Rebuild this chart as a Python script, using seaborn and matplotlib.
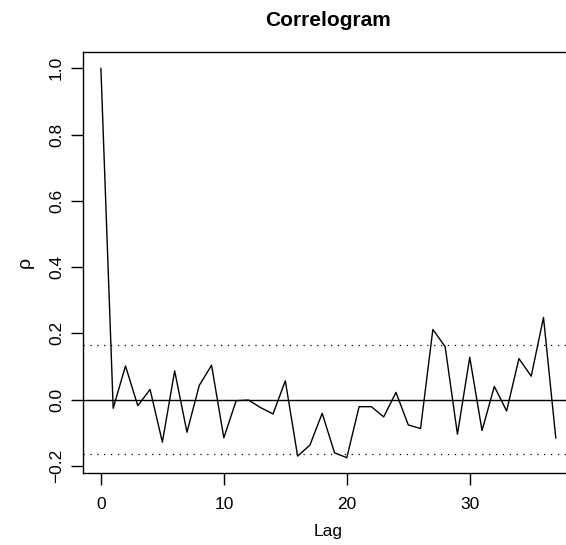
import matplotlib
matplotlib.use("Agg")
import matplotlib.pyplot as plt
import seaborn as sns
import pandas as pd

lags = list(range(38))
rho = [1.0, -0.026, 0.102, -0.018, 0.031, -0.128, 0.087, -0.098, 0.043, 0.104,
       -0.115, -0.003, -0.001, -0.024, -0.043, 0.057, -0.170, -0.137, -0.041, -0.160,
       -0.175, -0.021, -0.021, -0.052, 0.022, -0.076, -0.087, 0.212, 0.160, -0.104,
       0.128, -0.093, 0.040, -0.034, 0.124, 0.071, 0.248, -0.116]
conf = 0.164
x_ticks = [0, 10, 20, 30]
y_ticks = [-0.2, 0.0, 0.2, 0.4, 0.6, 0.8, 1.0]

sns.set_style("ticks")
plt.rcParams['font.family'] = ['Liberation Sans', 'DejaVu Sans']
plt.rcParams['text.color'] = 'black'
plt.rcParams['axes.labelcolor'] = 'black'

fig = plt.figure(figsize=(5.66, 5.45), dpi=100)
ax = fig.add_axes([82.7 / 566, (545 - 473.3) / 545, (574 - 82.7) / 566, 421 / 545])

df = pd.DataFrame({"Lag": lags, "rho": rho})
sns.lineplot(data=df, x="Lag", y="rho", ax=ax, color="black", linewidth=1.0)

ax.axhline(0, color="black", linewidth=1.0)
for c in (conf, -conf):
    ax.axhline(c, color="black", linewidth=0.9, linestyle=(0, (1, 4.5)))

ax.set_xlim(-1.48, 38.48)
ax.set_ylim(-0.222, 1.048)
ax.set_xticks(x_ticks)
ax.set_xticklabels([str(t) for t in x_ticks])
ax.set_yticks(y_ticks)
ax.set_yticklabels([f"{t:.1f}".replace("-", "\u2212") for t in y_ticks],
                   rotation=90, va="center")

for s in ax.spines.values():
    s.set_linewidth(1.0)
    s.set_color("black")
    s.set_visible(True)

ax.tick_params(axis="both", length=8.4, width=1.0, color="black",
               labelsize=12.5, labelcolor="black")
ax.tick_params(axis="x", pad=9)
ax.tick_params(axis="y", pad=5)

ax.set_xlabel("Lag", fontsize=12.5, labelpad=8, color="black")
ax.set_ylabel("ρ", fontsize=14, labelpad=11, color="black")
fig.text((82.7 + 574) / 2 / 566, 1 - 21 / 545, "Correlogram", ha="center", va="center",
         fontsize=15, fontweight="bold", color="black")

fig.savefig("out.png", dpi=100)
